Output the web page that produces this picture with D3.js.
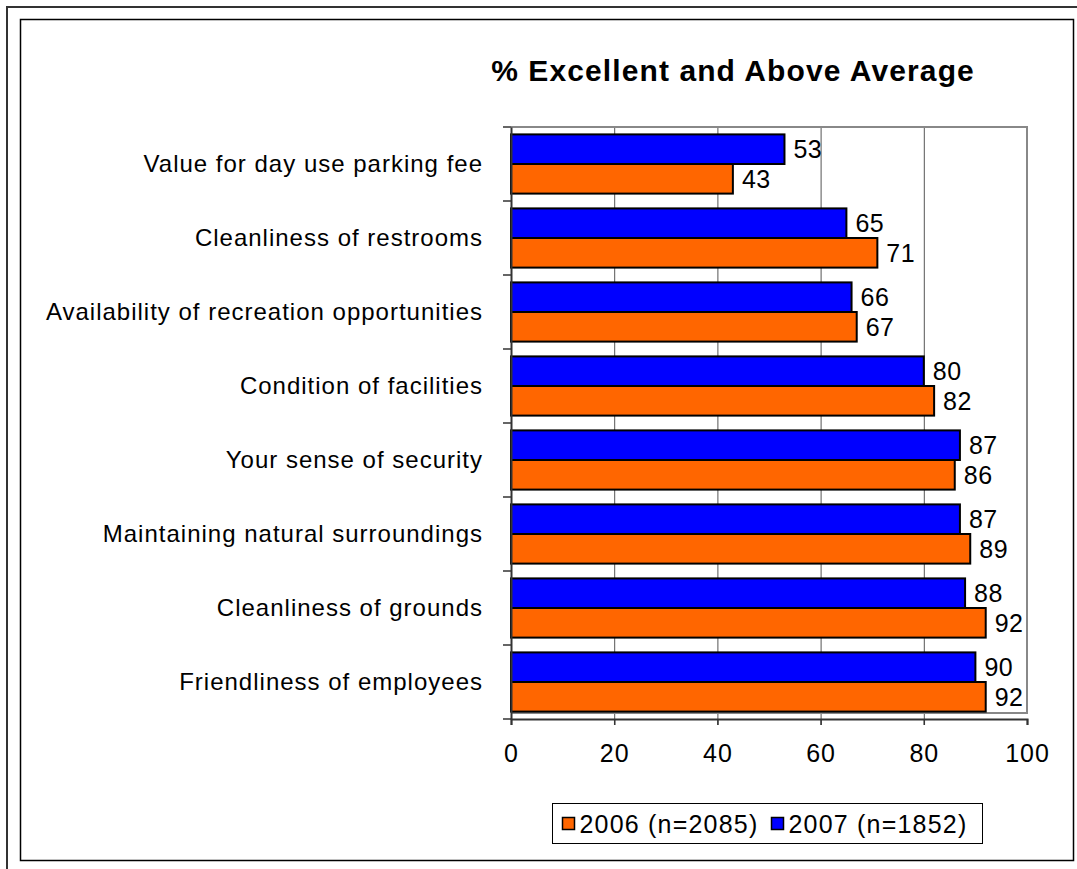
<!DOCTYPE html>
<html>
<head>
<meta charset="utf-8">
<script src="https://cdn.jsdelivr.net/npm/d3@7"></script>
<style>
  html, body { margin: 0; padding: 0; background: #fff; }
  svg text { font-family: "Liberation Sans", Arial, sans-serif; fill: #000; }
</style>
</head>
<body>
<svg id="chart"></svg>
<script>
// values
const categories = [
  "Value for day use parking fee",
  "Cleanliness of restrooms",
  "Availability of recreation opportunities",
  "Condition of facilities",
  "Your sense of security",
  "Maintaining natural surroundings",
  "Cleanliness of grounds",
  "Friendliness of employees"
];
const values2006 = [43, 71, 67, 82, 86, 89, 92, 92];
const values2007 = [53, 65, 66, 80, 87, 87, 88, 90];
const seriesNames = ["2007", "2006"];           // top bar first
const legendLabels = ["2006 (n=2085)", "2007 (n=1852)"];
const xTicks = [0, 20, 40, 60, 80, 100];

const W = 1077, H = 869;
const colors = { "2006": "#FF6600", "2007": "#0000FF" };
const font = "'Liberation Sans', Arial, sans-serif";

const svg = d3.select("#chart")
    .attr("width", W)
    .attr("height", H);

// page frames
svg.append("path")
    .attr("d", "M7,869V7H1077")
    .attr("fill", "none")
    .attr("stroke", "#333")
    .attr("stroke-width", 2);
svg.append("rect")
    .attr("x", 20.5).attr("y", 19.5)
    .attr("width", 1053).attr("height", 841)
    .attr("fill", "#fff")
    .attr("stroke", "#000")
    .attr("stroke-width", 1.5);

const plot = { left: 511, right: 1027, top: 127, bottom: 719 };

const x = d3.scaleLinear().domain([0, 100]).range([plot.left, plot.right]);
const y = d3.scaleBand()
    .domain(categories)
    .range([plot.top, plot.bottom])
    .paddingInner(0.2)
    .paddingOuter(0.1);
const ySub = d3.scaleBand().domain(seriesNames).range([0, y.bandwidth()]);

// title
svg.append("text")
    .attr("x", 733).attr("y", 81)
    .attr("text-anchor", "middle")
    .style("font-size", "30px")
    .style("font-weight", "bold")
    .style("letter-spacing", "1.1px")
    .text("% Excellent and Above Average");

// gridlines
svg.append("g").selectAll("line")
    .data(xTicks.slice(1, -1))
  .join("line")
    .attr("x1", d => x(d) + 0.5).attr("x2", d => x(d) + 0.5)
    .attr("y1", plot.top).attr("y2", plot.bottom + 6)
    .attr("stroke", "#555")
    .attr("stroke-width", 1);

// plot area border (top / right / bottom in grey)
svg.append("path")
    .attr("d", `M${plot.left},${plot.top}H${plot.right}V${plot.bottom - 6}H${plot.left}`)
    .attr("fill", "none")
    .attr("stroke", "#888")
    .attr("stroke-width", 2);

// bars
const rows = categories.map((c, i) => ({ cat: c, "2006": values2006[i], "2007": values2007[i] }));
const group = svg.append("g").selectAll("g")
    .data(rows)
  .join("g")
    .attr("transform", d => `translate(0,${y(d.cat)})`);

group.selectAll("rect")
    .data(d => seriesNames.map(s => ({ s, v: d[s] })))
  .join("rect")
    .attr("x", x(0))
    .attr("y", d => ySub(d.s))
    .attr("width", d => x(d.v) - x(0))
    .attr("height", ySub.bandwidth())
    .attr("fill", d => colors[d.s])
    .attr("stroke", "#000")
    .attr("stroke-width", 2);

group.selectAll("text")
    .data(d => seriesNames.map(s => ({ s, v: d[s] })))
  .join("text")
    .attr("x", d => x(d.v) + 9)
    .attr("y", d => ySub(d.s) + ySub.bandwidth() / 2)
    .attr("dy", "0.36em")
    .style("font-size", "25px")
    .style("letter-spacing", "0.5px")
    .text(d => d.v);

// x axis
const xAxis = svg.append("g")
    .attr("transform", `translate(0,${plot.bottom})`)
    .call(d3.axisBottom(x).tickValues(xTicks).tickSize(6).tickPadding(19));
xAxis.select(".domain").attr("stroke", "#333").attr("stroke-width", 2);
xAxis.selectAll(".tick line").attr("stroke", "#333").attr("stroke-width", 1.5);
xAxis.selectAll(".tick text")
    .style("font-size", "25px")
    .style("letter-spacing", "1px")
    .style("font-family", font);

// y axis: labels plus ticks at category boundaries
const yAxis = svg.append("g")
    .attr("transform", `translate(${plot.left},0)`)
    .call(d3.axisLeft(y).tickSize(0).tickPadding(28));
yAxis.select(".domain").attr("stroke", "#333").attr("stroke-width", 2);
yAxis.selectAll(".tick text")
    .style("font-size", "24px")
    .style("letter-spacing", "1px")
    .style("font-family", font);

const bounds = categories.map(c => y(c) - y.step() * y.paddingOuter()).concat([plot.bottom]);
yAxis.selectAll(".bound")
    .data(bounds)
  .join("line")
    .attr("class", "bound")
    .attr("x1", -8).attr("x2", 0)
    .attr("y1", d => d).attr("y2", d => d)
    .attr("stroke", "#333")
    .attr("stroke-width", 1.5);

// legend
const legend = svg.append("g").attr("transform", "translate(552.5,803.5)");
legend.append("rect")
    .attr("width", 430).attr("height", 40)
    .attr("fill", "#fff")
    .attr("stroke", "#000")
    .attr("stroke-width", 1);
const legendItems = [
  { s: "2006", label: legendLabels[0], x: 10 },
  { s: "2007", label: legendLabels[1], x: 219 }
];
const li = legend.selectAll(".item")
    .data(legendItems)
  .join("g")
    .attr("class", "item")
    .attr("transform", d => `translate(${d.x},0)`);
li.append("rect")
    .attr("y", 14).attr("width", 12).attr("height", 12)
    .attr("fill", d => colors[d.s])
    .attr("stroke", "#000")
    .attr("stroke-width", 1.5);
li.append("text")
    .attr("x", 17).attr("y", 29)
    .style("font-size", "25px")
    .style("letter-spacing", "1.2px")
    .text(d => d.label);
</script>
</body>
</html>
